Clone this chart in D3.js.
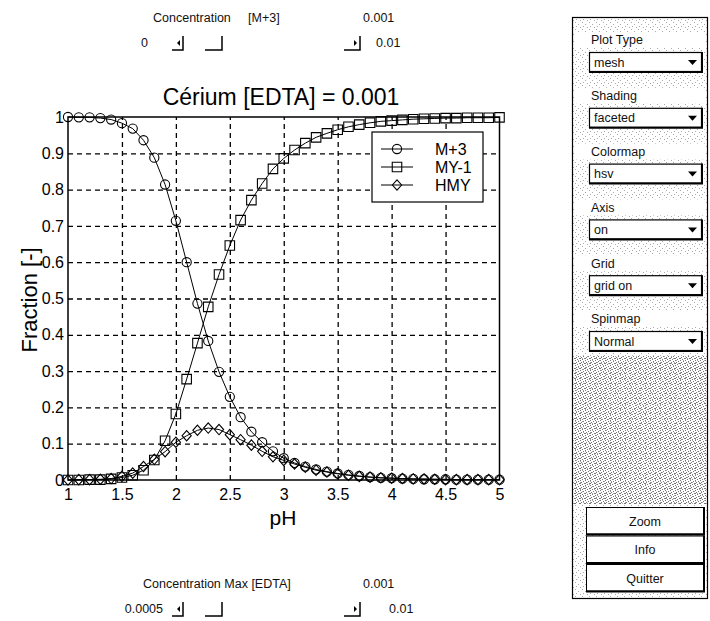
<!DOCTYPE html>
<html>
<head>
<meta charset="utf-8">
<script src="https://cdn.jsdelivr.net/npm/d3@7"></script>
<style>
	body { margin: 0; background: #fff; }
	svg { display: block; font-family: 'Liberation Sans', Arial, sans-serif; }
	.gui { font-size: 12.5px; fill: #111; }
</style>
</head>
<body>
<div id="chart"></div>
<script>

// pH grid and the three species fractions
const pH = [1.0, 1.1, 1.2, 1.3, 1.4, 1.5, 1.6, 1.7, 1.8, 1.9,
	2.0, 2.1, 2.2, 2.3, 2.4, 2.5, 2.6, 2.7, 2.8, 2.9,
	3.0, 3.1, 3.2, 3.3, 3.4, 3.5, 3.6, 3.7, 3.8, 3.9,
	4.0, 4.1, 4.2, 4.3, 4.4, 4.5, 4.6, 4.7, 4.8, 4.9, 5.0];

const mFree = [1.000, 0.999, 0.999, 0.997, 0.993, 0.983, 0.968, 0.936, 0.888, 0.814,
	0.714, 0.600, 0.486, 0.383, 0.298, 0.229, 0.173, 0.133, 0.104, 0.079,
	0.060, 0.047, 0.037, 0.029, 0.023, 0.018, 0.014, 0.011, 0.008, 0.006,
	0.005, 0.004, 0.003, 0.002, 0.002, 0.002, 0.001, 0.001, 0.001, 0.001, 0.001];

const myComplex = [0.000, 0.000, 0.001, 0.001, 0.003, 0.007, 0.013, 0.027, 0.055, 0.108,
	0.182, 0.278, 0.377, 0.477, 0.566, 0.646, 0.716, 0.771, 0.817, 0.857,
	0.886, 0.909, 0.928, 0.944, 0.955, 0.965, 0.973, 0.979, 0.984, 0.988,
	0.990, 0.992, 0.994, 0.995, 0.996, 0.997, 0.997, 0.998, 0.998, 0.998, 0.999];

const hmy = [0.000, 0.001, 0.001, 0.002, 0.004, 0.010, 0.019, 0.037, 0.057, 0.078,
	0.104, 0.122, 0.137, 0.143, 0.139, 0.125, 0.111, 0.096, 0.079, 0.064,
	0.054, 0.044, 0.035, 0.027, 0.022, 0.017, 0.013, 0.010, 0.008, 0.006,
	0.005, 0.004, 0.003, 0.003, 0.002, 0.001, 0.001, 0.001, 0.001, 0.001, 0.001];

const seriesNames = ['M+3', 'MY-1', 'HMY'];
const seriesMarkers = ['circle', 'square', 'diamond'];

const xTicks = [1, 1.5, 2, 2.5, 3, 3.5, 4, 4.5, 5];
const yTicks = [0, 0.1, 0.2, 0.3, 0.4, 0.5, 0.6, 0.7, 0.8, 0.9, 1];

const panelLabels = ['Plot Type', 'Shading', 'Colormap', 'Axis', 'Grid', 'Spinmap'];
const panelValues = ['mesh', 'faceted', 'hsv', 'on', 'grid on', 'Normal'];
const panelButtons = ['Zoom', 'Info', 'Quitter'];

const width = 710;
const height = 621;

const svg = d3.select('#chart')
	.append('svg')
		.attr('width', width)
		.attr('height', height);

const x = d3.scaleLinear()
	.domain([1, 5])
	.range([68, 499.5]);

const y = d3.scaleLinear()
	.domain([0, 1])
	.range([480, 117]);

const fmt = d3.format('~g');

// dashed grid, drawn with axes whose ticks span the plot
svg.append('g')
	.attr('transform', `translate(0, ${y(0)})`)
	.call(d3.axisBottom(x)
		.tickValues(xTicks.slice(1, -1))
		.tickSize(-(y(0) - y(1)))
		.tickFormat(''))
	.call(g => g.select('.domain').remove())
	.selectAll('line')
		.attr('stroke', '#000')
		.attr('stroke-width', 1.3)
		.attr('stroke-dasharray', '5,4');

svg.append('g')
	.attr('transform', `translate(${x(1)}, 0)`)
	.call(d3.axisLeft(y)
		.tickValues(yTicks.slice(1, -1))
		.tickSize(-(x(5) - x(1)))
		.tickFormat(''))
	.call(g => g.select('.domain').remove())
	.selectAll('line')
		.attr('stroke', '#000')
		.attr('stroke-width', 1.3)
		.attr('stroke-dasharray', '5,4');

// tick labels
svg.append('g')
	.attr('transform', `translate(0, ${y(0)})`)
	.call(d3.axisBottom(x)
		.tickValues(xTicks)
		.tickSize(0)
		.tickPadding(9)
		.tickFormat(fmt))
	.call(g => g.select('.domain').remove())
	.selectAll('text')
		.attr('fill', '#000')
		.style('font-size', '16px')
		.style('font-family', "'Liberation Sans', Arial, sans-serif");

svg.append('g')
	.attr('transform', `translate(${x(1)}, 0)`)
	.call(d3.axisLeft(y)
		.tickValues(yTicks)
		.tickSize(0)
		.tickPadding(4)
		.tickFormat(fmt))
	.call(g => g.select('.domain').remove())
	.selectAll('text')
		.attr('fill', '#000')
		.style('font-size', '16px')
		.style('font-family', "'Liberation Sans', Arial, sans-serif");

// axes box
svg.append('rect')
	.attr('x', x(1))
	.attr('y', y(1))
	.attr('width', x(5) - x(1))
	.attr('height', y(0) - y(1))
	.attr('fill', 'none')
	.attr('stroke', '#000')
	.attr('stroke-width', 1.5);

function markerPath(type) {
	if (type == 'circle') return d3.symbol(d3.symbolCircle, Math.PI * 4.6 * 4.6)();
	if (type == 'square') return d3.symbol(d3.symbolSquare, 9.5 * 9.5)();
	return 'M0,-5.2L4.6,0L0,5.2L-4.6,0Z';
}

const series = [mFree, myComplex, hmy].map(function(values, i) {
	return {
		name: seriesNames[i],
		marker: seriesMarkers[i],
		points: values.map((v, j) => [pH[j], v])
	};
});

const line = d3.line()
	.x(d => x(d[0]))
	.y(d => y(d[1]));

series.forEach(function(s) {
	let g = svg.append('g');

	g.append('path')
		.datum(s.points)
		.attr('d', line)
		.attr('fill', 'none')
		.attr('stroke', '#000')
		.attr('stroke-width', 1);

	g.selectAll('path.marker')
		.data(s.points)
		.enter().append('path')
			.attr('class', 'marker')
			.attr('d', markerPath(s.marker))
			.attr('transform', d => `translate(${x(d[0])}, ${y(d[1])})`)
			.attr('fill', 'none')
			.attr('stroke', '#000')
			.attr('stroke-width', 1.1);
});

// title and axis labels
svg.append('text')
	.attr('x', 281)
	.attr('y', 105)
	.attr('text-anchor', 'middle')
	.style('font-size', '23px')
	.text('Cérium [EDTA] = 0.001');

svg.append('text')
	.attr('x', 283)
	.attr('y', 525)
	.attr('text-anchor', 'middle')
	.style('font-size', '21px')
	.text('pH');

svg.append('text')
	.attr('transform', 'translate(37, 300) rotate(-90)')
	.attr('text-anchor', 'middle')
	.style('font-size', '22px')
	.text('Fraction [-]');

// legend
const legend = svg.append('g')
	.attr('transform', 'translate(372, 132)');

legend.append('rect')
	.attr('width', 111)
	.attr('height', 70)
	.attr('fill', '#fff')
	.attr('stroke', '#000')
	.attr('stroke-width', 1.2);

series.forEach(function(s, i) {
	let ly = 17 + 18 * i;
	legend.append('line')
		.attr('x1', 9)
		.attr('x2', 41)
		.attr('y1', ly)
		.attr('y2', ly)
		.attr('stroke', '#000');
	legend.append('path')
		.attr('d', markerPath(s.marker))
		.attr('transform', `translate(25, ${ly})`)
		.attr('fill', 'none')
		.attr('stroke', '#000')
		.attr('stroke-width', 1.1);
	legend.append('text')
		.attr('x', 63)
		.attr('y', ly)
		.attr('dy', '0.36em')
		.style('font-size', '16px')
		.text(s.name);
});

// slider controls above and below the plot
function slider(opts) {
	let g = svg.append('g').attr('class', 'gui');

	g.append('text')
		.attr('x', opts.titleX)
		.attr('y', opts.top)
		.attr('dy', '0.35em')
		.text(opts.title);
	if (opts.tag) {
		g.append('text')
			.attr('x', opts.tagX)
			.attr('y', opts.top)
			.attr('dy', '0.35em')
			.text(opts.tag);
	}
	g.append('text')
		.attr('x', 363)
		.attr('y', opts.top)
		.attr('dy', '0.35em')
		.text(opts.value);

	let r = opts.top + 25;
	g.append('text')
		.attr('x', opts.minX)
		.attr('y', r)
		.attr('dy', '0.35em')
		.attr('text-anchor', 'end')
		.text(opts.min);
	g.append('text')
		.attr('x', opts.maxX)
		.attr('y', r)
		.attr('dy', '0.35em')
		.text(opts.max);

	[[172, 183], [205, 222], [344, 360]].forEach(function(b) {
		g.append('path')
			.attr('d', `M${b[0]},${r + 7}H${b[1]}V${r - 7}`)
			.attr('fill', 'none')
			.attr('stroke', '#000')
			.attr('stroke-width', 1.5);
	});
	g.append('path')
		.attr('d', `M177,${r}l3,-3v6z`)
		.attr('fill', '#000');
	g.append('path')
		.attr('d', `M357,${r}l-3,-3v6z`)
		.attr('fill', '#000');
}

slider({ top: 18, title: 'Concentration', titleX: 153, tag: '[M+3]', tagX: 248,
	value: '0.001', min: '0', minX: 148, max: '0.01', maxX: 376 });

slider({ top: 584, title: 'Concentration Max [EDTA]', titleX: 143,
	value: '0.001', min: '0.0005', minX: 163, max: '0.01', maxX: 389 });

// right-hand control panel
const defs = svg.append('defs');

const speckle = defs.append('pattern')
	.attr('id', 'speckle')
	.attr('width', 7)
	.attr('height', 7)
	.attr('patternUnits', 'userSpaceOnUse');
[[1, 1], [4, 3], [2, 5], [6, 6]].forEach(p => speckle.append('rect')
	.attr('x', p[0]).attr('y', p[1]).attr('width', 1).attr('height', 1).attr('fill', '#aaa'));

const dense = defs.append('pattern')
	.attr('id', 'dense')
	.attr('width', 5)
	.attr('height', 5)
	.attr('patternUnits', 'userSpaceOnUse');
[[0, 0], [3, 1], [1, 2], [4, 3], [2, 4], [0, 3]].forEach(p => dense.append('rect')
	.attr('x', p[0]).attr('y', p[1]).attr('width', 1).attr('height', 1).attr('fill', '#777'));

const panel = svg.append('g').attr('class', 'gui');

panel.append('rect')
	.attr('x', 572.5)
	.attr('y', 17.5)
	.attr('width', 135)
	.attr('height', 581)
	.attr('fill', 'url(#speckle)')
	.attr('stroke', '#000')
	.attr('stroke-width', 1.2);

panel.append('rect')
	.attr('x', 574)
	.attr('y', 356)
	.attr('width', 132)
	.attr('height', 148)
	.attr('fill', 'url(#dense)');

const py = d3.scaleLinear()
	.domain([0, panelLabels.length - 1])
	.range([40, 319]);

panelLabels.forEach(function(label, i) {
	let top = py(i) + 12;

	panel.append('rect')
		.attr('x', 575)
		.attr('y', py(i) - 8)
		.attr('width', 130)
		.attr('height', 16)
		.attr('fill', '#fff');
	panel.append('text')
		.attr('x', 591)
		.attr('y', py(i))
		.attr('dy', '0.35em')
		.text(label);

	panel.append('rect')
		.attr('x', 589.5)
		.attr('y', top + 0.5)
		.attr('width', 112)
		.attr('height', 19)
		.attr('fill', '#fff')
		.attr('stroke', '#000')
		.attr('stroke-width', 1.2);
	panel.append('path')
		.attr('d', `M702,${top}V${top + 20}H589`)
		.attr('fill', 'none')
		.attr('stroke', '#000')
		.attr('stroke-width', 2);
	panel.append('text')
		.attr('x', 594)
		.attr('y', top + 10)
		.attr('dy', '0.36em')
		.text(panelValues[i]);
	panel.append('path')
		.attr('d', `M688,${top + 8}h9l-4.5,5z`)
		.attr('fill', '#000');
});

panelButtons.forEach(function(label, i) {
	let top = 507 + 28.5 * i;

	panel.append('rect')
		.attr('x', 586.5)
		.attr('y', top + 0.5)
		.attr('width', 117)
		.attr('height', 26.5)
		.attr('fill', '#fff')
		.attr('stroke', '#000')
		.attr('stroke-width', 1);
	panel.append('path')
		.attr('d', `M704,${top}V${top + 27.5}H586`)
		.attr('fill', 'none')
		.attr('stroke', '#000')
		.attr('stroke-width', 2);
	panel.append('text')
		.attr('x', 645)
		.attr('y', top + 14)
		.attr('dy', '0.36em')
		.attr('text-anchor', 'middle')
		.text(label);
});

</script>
</body>
</html>
